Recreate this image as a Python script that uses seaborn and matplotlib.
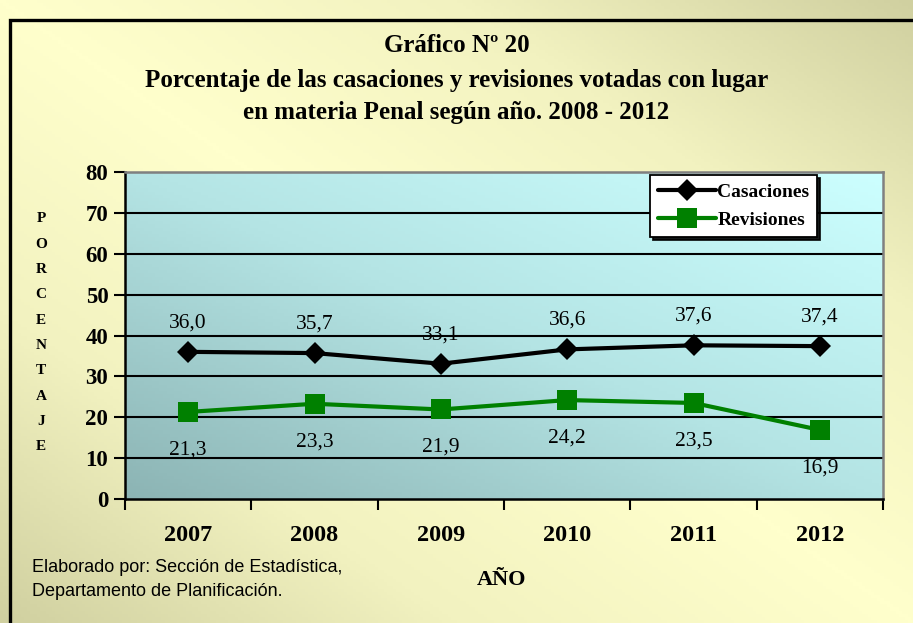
import numpy as np
import pandas as pd
import matplotlib
matplotlib.use("Agg")
import matplotlib.pyplot as plt
from matplotlib.colors import LinearSegmentedColormap
from matplotlib.patches import Rectangle
import seaborn as sns

# ===============================
# Data
# ===============================

years = ["2007", "2008", "2009", "2010", "2011", "2012"]
casaciones = [36.0, 35.7, 33.1, 36.6, 37.6, 37.4]
revisiones = [21.3, 23.3, 21.9, 24.2, 23.5, 16.9]

df = pd.DataFrame({
    "pos": range(len(years)),
    "Casaciones": casaciones,
    "Revisiones": revisiones,
})

sns.set_style("white")
plt.rcParams["text.color"] = "black"
plt.rcParams["xtick.color"] = "black"
plt.rcParams["ytick.color"] = "black"
plt.rcParams["axes.labelcolor"] = "black"
serif = ["Liberation Serif", "DejaVu Serif"]
sans = ["Liberation Sans", "DejaVu Sans"]

W, H = 913, 623
fig = plt.figure(figsize=(W / 100, H / 100), dpi=100)

# ===============================
# Figure background gradient
# ===============================

bg = fig.add_axes([0, 0, 1, 1], zorder=-10)
yy, xx = np.mgrid[0:1:200j, 0:1:300j]
bg_cmap = LinearSegmentedColormap.from_list("bg", ["#FFFFCC", "#F2F2C0", "#D0D0A0"])
t = np.abs(xx - yy)
bg.imshow(t, cmap=bg_cmap, extent=[0, 1, 0, 1], origin="upper", aspect="auto")
bg.set_axis_off()
bg.add_patch(Rectangle((10 / W, -0.05), 1.2, 1 - 20 / H + 0.05,
                       transform=bg.transAxes, fill=False, lw=2.4,
                       edgecolor="black"))

# ===============================
# Plot area
# ===============================

ax = fig.add_axes([125 / W, 1 - 499 / H, (883 - 125) / W, (499 - 172) / H])
ax.set_xlim(-0.5, 5.5)
ax.set_ylim(0, 80)

py, px = np.mgrid[0:1:100j, 0:1:200j]
area_cmap = LinearSegmentedColormap.from_list("area", ["#8CB4B4", "#B4E4E4", "#CCFFFF"])
shade = (px + (1 - py)) / 2
ax.imshow(shade, cmap=area_cmap, extent=[-0.5, 5.5, 0, 80], origin="upper",
          aspect="auto", zorder=0)

for v in range(10, 81, 10):
    ax.axhline(v, color="black", lw=1.5, zorder=1)

sns.lineplot(data=df, x="pos", y="Casaciones", color="black", marker="D",
             markersize=11, markeredgewidth=0, lw=3, ax=ax, zorder=3,
             label="Casaciones")
sns.lineplot(data=df, x="pos", y="Revisiones", color="#008000", marker="s",
             markersize=15, markeredgewidth=0, lw=3, ax=ax, zorder=3,
             label="Revisiones")

for i, v in enumerate(casaciones):
    ax.text(i, v + 7.1, f"{v:.1f}".replace(".", ","), ha="center", va="center",
            fontsize=15.5, family=serif, zorder=4)
for i, v in enumerate(revisiones):
    ax.text(i, v - 9.3, f"{v:.1f}".replace(".", ","), ha="center", va="center",
            fontsize=15.5, family=serif, zorder=4)

ax.set_xticks([i - 0.5 for i in range(len(years) + 1)])
ax.set_xticklabels([])
ax.set_xticks(range(len(years)), minor=True)
ax.set_xticklabels(years, minor=True, fontsize=17.5, fontweight="bold", family=serif)
ax.tick_params(axis="x", which="major", length=8, width=1.5, direction="out", color="black")
ax.tick_params(axis="x", which="minor", length=0, pad=19)
ax.set_yticks(range(0, 81, 10))
ax.set_yticklabels([str(v) for v in range(0, 81, 10)], fontsize=16.5,
                   fontweight="bold", family=serif)
ax.tick_params(axis="y", length=8, width=1.5, direction="out", color="black", pad=4)
ax.tick_params(bottom=True, left=True)

for side in ["left", "bottom"]:
    ax.spines[side].set_color("black")
    ax.spines[side].set_linewidth(1.8)
for side in ["top", "right"]:
    ax.spines[side].set_color("#808080")
    ax.spines[side].set_linewidth(1.8)
ax.set_xlabel("")
ax.set_ylabel("")

leg = ax.legend(loc="upper right", bbox_to_anchor=(0.913, 0.99),
                prop={"family": serif, "weight": "bold", "size": 14},
                frameon=True, fancybox=False, shadow={"color": "black", "alpha": 0.9},
                framealpha=1, edgecolor="black", borderpad=0.4, handlelength=3.0,
                handletextpad=0.05, labelspacing=0.55, borderaxespad=0)
leg.get_frame().set_linewidth(1.3)
leg.set_zorder(5)

# ===============================
# Titles and labels
# ===============================

title_lines = ["Gráfico Nº 20",
               "Porcentaje de las casaciones y revisiones votadas con lugar",
               "en materia Penal según año. 2008 - 2012"]
for y_px, line in zip([45, 80, 112], title_lines):
    fig.text(0.5, 1 - y_px / H, line, ha="center", va="center",
             fontsize=18, fontweight="bold", family=serif)

for k, ch in enumerate("PORCENTAJE"):
    fig.text(41 / W, 1 - (219 + k * 25.3) / H, ch, ha="center", va="center",
             fontsize=11, fontweight="bold", family=serif)

fig.text(502 / W, 1 - 580 / H, "AÑO", ha="center", va="center",
         fontsize=16, fontweight="bold", family=serif)

fig.text(32 / W, 1 - 568 / H, "Elaborado por: Sección de Estadística,",
         ha="left", va="center", fontsize=13, family=sans)
fig.text(32 / W, 1 - 591 / H, "Departamento de Planificación.",
         ha="left", va="center", fontsize=13, family=sans)

plt.savefig("out.png", dpi=100)
